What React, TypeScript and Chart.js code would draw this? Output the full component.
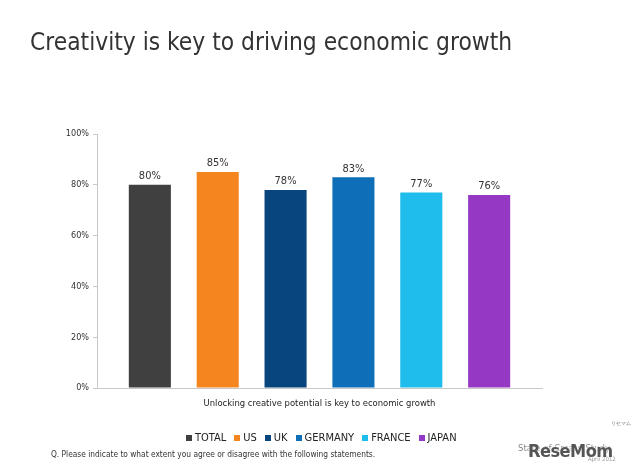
import React, { useEffect, useRef } from "react";
import { Chart, registerables } from "chart.js";

Chart.register(...registerables);

const categories = ["Unlocking creative potential is key to economic growth"];
const seriesNames = ["TOTAL", "US", "UK", "GERMANY", "FRANCE", "JAPAN"];
const seriesValues = [80, 85, 78, 83, 77, 76];
const seriesColors = ["#404040", "#F5861F", "#08457E", "#0E6EB8", "#1EBDEB", "#9539C4"];
const yTicks = [0, 20, 40, 60, 80, 100];

const FONT = "'DejaVu Sans Condensed', 'DejaVu Sans', sans-serif";

const valueLabels = {
  id: "valueLabels",
  afterDatasetsDraw(chart: any) {
    const ctx = chart.ctx;
    ctx.save();
    ctx.font = `11px ${FONT}`;
    ctx.fillStyle = "#333";
    ctx.textAlign = "center";
    ctx.textBaseline = "bottom";
    chart.data.datasets.forEach((ds: any, i: number) => {
      const meta = chart.getDatasetMeta(i);
      meta.data.forEach((el: any, j: number) => {
        ctx.fillText(`${ds.data[j]}%`, el.x, el.y - 3);
      });
    });
    ctx.restore();
  },
};

export default function App() {
  const ref = useRef<HTMLCanvasElement>(null);
  useEffect(() => {
    if (!ref.current) return;
    const chart = new Chart(ref.current, {
      type: "bar",
      data: {
        labels: categories,
        datasets: seriesNames.map((n, i) => ({
          label: n,
          data: [seriesValues[i]],
          backgroundColor: seriesColors[i],
          categoryPercentage: 0.915,
          barPercentage: 0.62,
        })),
      },
      options: {
        animation: false,
        responsive: false,
        layout: { padding: { top: 134, left: 0, right: 98, bottom: 58 } },
        plugins: { legend: { display: false }, tooltip: { enabled: false }, title: { display: false } },
        scales: {
          x: {
            grid: { display: false, drawTicks: false },
            border: { display: true, color: "#C8C8C8", width: 1 },
            ticks: { color: "#222", font: { family: FONT, size: 9.4 }, padding: 10 },
            afterFit(scale: any) { scale.height = 30; },
          },
          y: {
            min: 0,
            max: 100,
            afterBuildTicks(scale: any) { scale.ticks = yTicks.map((v) => ({ value: v })); },
            grid: { drawOnChartArea: false, drawTicks: true, tickLength: 4, color: "#C8C8C8" },
            border: { display: true, color: "#C8C8C8", width: 1 },
            ticks: {
              color: "#333",
              font: { family: FONT, size: 9 },
              padding: 4,
              callback: (v: any) => `${v}%`,
            },
            afterFit(scale: any) { scale.width = 97; },
          },
        },
      },
      plugins: [valueLabels],
    });
    return () => chart.destroy();
  }, []);

  return (
    <div style={{ position: "absolute", left: 0, top: 0, width: 640, height: 476, background: "#fff", overflow: "hidden", fontFamily: FONT }}>
      <canvas ref={ref} width={640} height={476} style={{ position: "absolute", left: 0, top: 0 }} />
      <div style={{ position: "absolute", left: 30, top: 27, fontSize: 24.3, color: "#333", whiteSpace: "nowrap" }}>
        Creativity is key to driving economic growth
      </div>
      <div style={{ position: "absolute", left: 186, top: 431, display: "flex", gap: 8, fontSize: 11, color: "#222", whiteSpace: "nowrap" }}>
        {seriesNames.map((n, i) => (
          <span key={n} style={{ display: "flex", alignItems: "center" }}>
            <span style={{ display: "inline-block", width: 6, height: 6, background: seriesColors[i], marginRight: 3 }} />
            {n}
          </span>
        ))}
      </div>
      <div style={{ position: "absolute", left: 51, top: 449, fontSize: 8.3, color: "#333", whiteSpace: "nowrap" }}>
        Q. Please indicate to what extent you agree or disagree with the following statements.
      </div>
      <div style={{ position: "absolute", left: 518, top: 442, fontSize: 9.5, color: "#888", whiteSpace: "nowrap" }}>
        State of Create Study
      </div>
      <div style={{ position: "absolute", left: 588, top: 455, fontSize: 6, color: "#999", whiteSpace: "nowrap" }}>
        April 2012
      </div>
      <div style={{ position: "absolute", left: 611, top: 420, fontSize: 5, color: "#666", whiteSpace: "nowrap" }}>
        リセマム
      </div>
      <div style={{ position: "absolute", left: 528, top: 440, fontSize: 18, fontWeight: "bold", color: "#555", whiteSpace: "nowrap", letterSpacing: -0.5, textShadow: "0 0 2px #fff, 0 0 2px #fff" }}>
        ReseMom
      </div>
    </div>
  );
}
